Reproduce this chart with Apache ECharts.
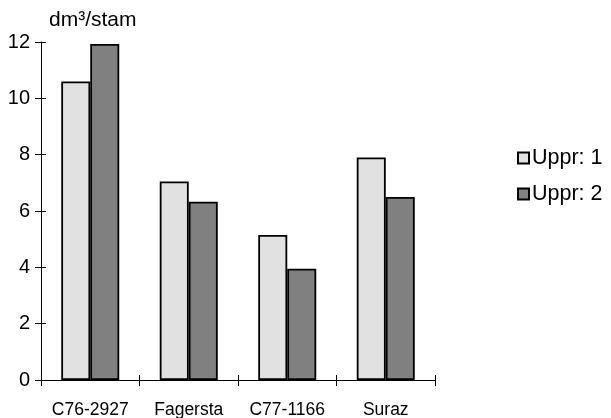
<!DOCTYPE html>
<html>
<head>
<meta charset="utf-8">
<script src="https://cdn.jsdelivr.net/npm/echarts@6/dist/echarts.min.js"></script>
<style>
  html, body { margin: 0; padding: 0; background: #fff; }
  #main { width: 611px; height: 418px; }
</style>
</head>
<body>
<div id="main"></div>
<script>
// data
var categories = ['C76-2927', 'Fagersta', 'C77-1166', 'Suraz'];
var uppr1 = [10.6, 7.05, 5.15, 7.9];
var uppr2 = [11.93, 6.33, 3.95, 6.5];
var seriesNames = ['Uppr: 1', 'Uppr: 2'];
var yTicks = [0, 2, 4, 6, 8, 10, 12];

var font = 'Liberation Sans, Arial, sans-serif';
var myChart = echarts.init(document.getElementById('main'));

var yBase = {
  type: 'value',
  min: yTicks[0],
  max: yTicks[yTicks.length - 1],
  interval: yTicks[1] - yTicks[0],
  splitLine: { show: false }
};

// second axes only draw the ticks that cross the axis line
var tickOnly = {
  axisLine: { show: true, lineStyle: { color: '#000', opacity: 0 } },
  axisTick: { show: true, length: 11, lineStyle: { color: '#000' } },
  axisLabel: { show: false }
};

var option = {
  animation: false,
  backgroundColor: '#fff',
  title: {
    text: 'dm³/stam',
    left: 44,
    top: 5,
    textStyle: { fontFamily: font, fontSize: 21, fontWeight: 'normal', color: '#000' }
  },
  legend: {
    orient: 'vertical',
    left: 512,
    top: 142,
    itemWidth: 11,
    itemHeight: 11,
    itemGap: 14,
    icon: 'rect',
    data: seriesNames,
    textStyle: { fontFamily: font, fontSize: 21.5, color: '#000', padding: [0, 0, 0, -2] }
  },
  grid: { left: 41, right: 176, top: 42, bottom: 38, outerBoundsMode: 'none' },
  xAxis: [{
    type: 'category',
    data: categories,
    axisLine: { lineStyle: { color: '#000', width: 1 } },
    axisTick: { show: false },
    axisLabel: { fontFamily: font, fontSize: 17.5, color: '#000', margin: 21, interval: 0 }
  }, Object.assign({
    type: 'category',
    data: categories,
    position: 'bottom',
    offset: -5
  }, tickOnly)],
  yAxis: [Object.assign({}, yBase, {
    axisLine: { show: true, lineStyle: { color: '#000', width: 1 } },
    axisTick: { show: false },
    axisLabel: { fontFamily: font, fontSize: 20, color: '#000', margin: 11 }
  }), Object.assign({}, yBase, {
    position: 'left',
    offset: -5
  }, tickOnly)],
  series: [{
    name: seriesNames[0],
    type: 'bar',
    data: uppr1,
    barWidth: 29,
    barGap: '0%',
    itemStyle: { color: '#e1e1e1', borderColor: '#000', borderWidth: 1.8 }
  }, {
    name: seriesNames[1],
    type: 'bar',
    data: uppr2,
    barWidth: 29,
    barGap: '0%',
    itemStyle: { color: '#808080', borderColor: '#000', borderWidth: 1.8 }
  }]
};

myChart.setOption(option);
</script>
</body>
</html>
